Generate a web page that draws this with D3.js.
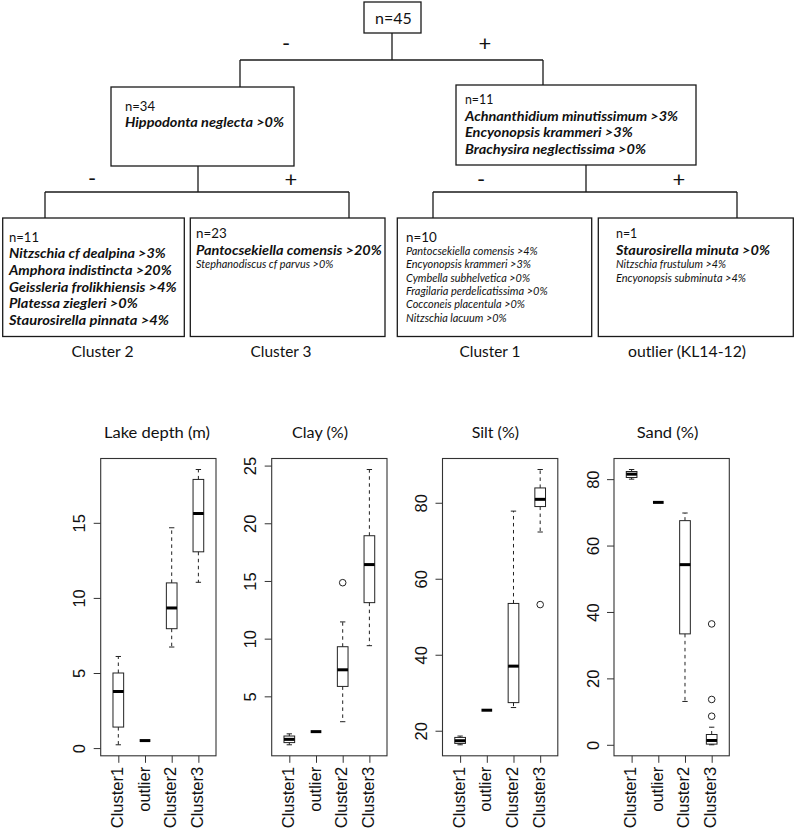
<!DOCTYPE html>
<html><head><meta charset="utf-8">
<script src="https://cdn.jsdelivr.net/npm/d3@7"></script>
<style>body{margin:0;background:#fff}svg{display:block}</style>
</head><body><svg id="c" width="796" height="835"></svg>
<script>
// ================= DATA =================
// Boxplot categories and panel titles
const categories = ["Cluster1", "outlier", "Cluster2", "Cluster3"];
const panelTitles = ["Lake depth (m)", "Clay (%)", "Silt (%)", "Sand (%)"];
// Five-number summaries per category: [lower whisker, Q1, median, Q3, upper whisker]
const lakeDepth = [[0.22, 1.4, 3.77, 5.0, 6.1], [0.5, 0.5, 0.5, 0.5, 0.5], [6.73, 7.95, 9.33, 11.0, 14.67], [11.04, 13.07, 15.62, 17.89, 18.55]];
const clay      = [[0.8, 0.99, 1.27, 1.56, 1.75], [1.94, 1.94, 1.94, 1.94, 1.94], [2.8, 5.86, 7.3, 9.3, 11.45], [9.39, 13.12, 16.42, 18.92, 24.66]];
const silt      = [[16.3, 16.66, 17.37, 18.24, 18.6], [25.4, 25.4, 25.4, 25.4, 25.4], [26.1, 27.4, 37.0, 53.5, 77.8], [72.3, 79.0, 80.9, 83.9, 88.75]];
const sand      = [[80.0, 80.5, 81.5, 82.3, 82.9], [73.0, 73.0, 73.0, 73.0, 73.0], [13.05, 33.4, 54.25, 67.5, 69.8], [0.0, 0.2, 1.3, 3.1, 5.3]];
// Outlying points per category
const lakeDepthOutliers = [[], [], [], []];
const clayOutliers      = [[], [], [14.85], []];
const siltOutliers      = [[], [], [], [53.2]];
const sandOutliers      = [[], [], [], [8.6, 13.65, 36.4]];
// Tick labels
const lakeDepthTicks = [0, 5, 10, 15];
const clayTicks      = [5, 10, 15, 20, 25];
const siltTicks      = [20, 40, 60, 80];
const sandTicks      = [0, 20, 40, 60, 80];

// Decision tree texts
const rootText = ["n=45"];
const splitLeftText = ["n=34", "Hippodonta neglecta >0%"];
const splitRightText = ["n=11", "Achnanthidium minutissimum >3%", "Encyonopsis krammeri >3%", "Brachysira neglectissima >0%"];
const cluster2Text = ["n=11", "Nitzschia cf dealpina >3%", "Amphora indistincta >20%", "Geissleria frolikhiensis >4%", "Platessa ziegleri >0%", "Staurosirella pinnata >4%"];
const cluster3Text = ["n=23", "Pantocsekiella comensis >20%", "Stephanodiscus cf parvus >0%"];
const cluster1Text = ["n=10", "Pantocsekiella comensis >4%", "Encyonopsis krammeri >3%", "Cymbella subhelvetica >0%", "Fragilaria perdelicatissima >0%", "Cocconeis placentula >0%", "Nitzschia lacuum >0%"];
const outlierText = ["n=1", "Staurosirella minuta >0%", "Nitzschia frustulum >4%", "Encyonopsis subminuta >4%"];
const leafLabels = ["Cluster 2", "Cluster 3", "Cluster 1", "outlier (KL14-12)"];
const branchSigns = ["-", "+", "-", "+", "-", "+"];

// ================= LAYOUT =================
const svg = d3.select("#c");
svg.append("rect").attr("width", 796).attr("height", 835).attr("fill", "#fff");

const treeFont = "Lato, 'Open Sans', 'Noto Sans', sans-serif";
const styles = {
  n: {size: 13, weight: "normal", italic: false},
  r: {size: 15, weight: "normal", italic: false},
  b: {size: 14, weight: "bold", italic: true},
  s: {size: 10.5, weight: "normal", italic: true}
};
const treeBoxes = [
  {rect: [364, 2, 421, 33], text: rootText, x: 375, base: [23.5], style: ["r"], w: [36.7]},
  {rect: [111, 87, 294, 166], text: splitLeftText, x: 125, base: [110.5, 127], style: ["n", "b"], w: [30, 159]},
  {rect: [456, 85, 696, 165], text: splitRightText, x: 465, base: [103.5, 120.7, 137.3, 154], style: ["n", "b", "b", "b"], w: [28.3, 213, 167.7, 181]},
  {rect: [2.7, 218, 184.3, 336.5], text: cluster2Text, x: 9, base: [241.7, 258.3, 275, 291.7, 308.3, 325], style: ["n", "b", "b", "b", "b", "b"], w: [30, 156.7, 162.7, 167.7, 128.7, 160]},
  {rect: [190.3, 218, 385, 336.5], text: cluster3Text, x: 196, base: [238.3, 255, 268], style: ["n", "b", "s"], w: [30.7, 185.7, 137.3]},
  {rect: [397.3, 218, 591.7, 336.5], text: cluster1Text, x: 406, base: [241.7, 255, 268.3, 281.7, 295, 308.3, 321.7], style: ["n", "s", "s", "s", "s", "s", "s"], w: [30.7, 131.7, 125, 124, 141.7, 119, 100.7]},
  {rect: [598.3, 218, 793.3, 336.5], text: outlierText, x: 616, base: [238.3, 255, 268.3, 281.7], style: ["n", "b", "s", "s"], w: [21.3, 154, 110, 130]}
];
const treeLines = [
  [392, 33, 392, 60], [240, 60, 543, 60], [240, 60, 240, 87], [543, 60, 543, 85],
  [198, 166, 198, 192], [45, 192, 349, 192], [45, 192, 45, 218], [349, 192, 349, 218],
  [586, 165, 586, 192], [433, 192, 737, 192], [433, 192, 433, 218], [737, 192, 737, 218]
];
const signPos = [[286, 44], [485, 44], [92, 179], [291, 180], [481, 180], [679, 180]];
const leafPos = [[102.5, 62], [281, 61], [490, 61], [687, 118]];

const tree = svg.append("g");
tree.selectAll("line").data(treeLines).join("line")
  .attr("x1", d => d[0]).attr("y1", d => d[1]).attr("x2", d => d[2]).attr("y2", d => d[3])
  .attr("stroke", "#1a1a1a").attr("stroke-width", 1.3);

treeBoxes.forEach(b => {
  tree.append("rect")
    .attr("x", b.rect[0]).attr("y", b.rect[1])
    .attr("width", b.rect[2] - b.rect[0]).attr("height", b.rect[3] - b.rect[1])
    .attr("fill", "#fff").attr("stroke", "#1a1a1a").attr("stroke-width", 1.3);
  b.text.forEach((t, i) => {
    const st = styles[b.style[i]];
    tree.append("text")
      .attr("x", b.x).attr("y", b.base[i])
      .attr("font-family", treeFont).attr("font-size", st.size)
      .attr("font-weight", st.weight).attr("font-style", st.italic ? "italic" : "normal")
      .attr("fill", "#111")
      .attr("textLength", b.w[i]).attr("lengthAdjust", "spacingAndGlyphs")
      .text(t);
  });
});

tree.selectAll("text.sign").data(branchSigns).join("text").attr("class", "sign")
  .attr("x", (d, i) => signPos[i][0]).attr("y", (d, i) => signPos[i][1] + 7)
  .attr("text-anchor", "middle").attr("font-family", treeFont)
  .attr("font-size", 22).attr("fill", "#111").text(d => d);

tree.selectAll("text.leaf").data(leafLabels).join("text").attr("class", "leaf")
  .attr("x", (d, i) => leafPos[i][0]).attr("y", 357)
  .attr("text-anchor", "middle").attr("font-family", treeFont).attr("font-size", 16)
  .attr("fill", "#111")
  .attr("textLength", (d, i) => leafPos[i][1]).attr("lengthAdjust", "spacingAndGlyphs")
  .text(d => d);

// ================= BOXPLOTS =================
const panels = [
  {title: panelTitles[0], stats: lakeDepth, out: lakeDepthOutliers, ticks: lakeDepthTicks},
  {title: panelTitles[1], stats: clay, out: clayOutliers, ticks: clayTicks},
  {title: panelTitles[2], stats: silt, out: siltOutliers, ticks: siltTicks},
  {title: panelTitles[3], stats: sand, out: sandOutliers, ticks: sandTicks}
];
const plotTop = 458.5, plotBottom = 755.8, plotW = 115.3;
const plotLefts = [100.7, 271.7, 442.5, 614];
const titleX = [157, 320, 495.3, 667.5];
const titleW = [106, 56, 47.3, 61.7];
const rFont = "'Liberation Sans', Arial, Helvetica, sans-serif";

panels.forEach((p, i) => {
  const L = plotLefts[i];
  const all = p.stats.flat().concat(p.out.flat());
  const lo = d3.min(all), hi = d3.max(all), pad = (hi - lo) * 0.04;
  const y = d3.scaleLinear().domain([lo - pad, hi + pad]).range([plotBottom, plotTop]);
  const x = d3.scaleLinear().domain([0.5 - 0.16, categories.length + 0.5 + 0.16]).range([L, L + plotW]);
  const boxW = x(1.4) - x(1), staple = x(1.2) - x(1);
  const g = svg.append("g");

  // title
  g.append("text").attr("x", titleX[i]).attr("y", 438).attr("text-anchor", "middle")
    .attr("font-family", treeFont).attr("font-size", 15.5).attr("fill", "#111")
    .attr("textLength", titleW[i]).attr("lengthAdjust", "spacingAndGlyphs").text(p.title);

  // boxes
  p.stats.forEach((s, k) => {
    const cx = x(k + 1);
    const [lw, q1, md, q3, hw] = s;
    g.append("line").attr("x1", cx).attr("x2", cx).attr("y1", y(q3)).attr("y2", y(hw))
      .attr("stroke", "#222").attr("stroke-width", 1).attr("stroke-dasharray", "3.5,3.5");
    g.append("line").attr("x1", cx).attr("x2", cx).attr("y1", y(q1)).attr("y2", y(lw))
      .attr("stroke", "#222").attr("stroke-width", 1).attr("stroke-dasharray", "3.5,3.5");
    [lw, hw].forEach(v => g.append("line")
      .attr("x1", cx - staple / 2).attr("x2", cx + staple / 2).attr("y1", y(v)).attr("y2", y(v))
      .attr("stroke", "#222").attr("stroke-width", 1));
    g.append("rect").attr("x", cx - boxW / 2).attr("width", boxW)
      .attr("y", y(q3)).attr("height", Math.max(0, y(q1) - y(q3)))
      .attr("fill", "none").attr("stroke", "#222").attr("stroke-width", 1);
    g.append("line").attr("x1", cx - boxW / 2).attr("x2", cx + boxW / 2).attr("y1", y(md)).attr("y2", y(md))
      .attr("stroke", "#000").attr("stroke-width", 3);
    p.out[k].forEach(v => g.append("circle").attr("cx", cx).attr("cy", y(v)).attr("r", 3.3)
      .attr("fill", "none").attr("stroke", "#222").attr("stroke-width", 1));
  });

  // frame
  g.append("rect").attr("x", L).attr("y", plotTop).attr("width", plotW).attr("height", plotBottom - plotTop)
    .attr("fill", "none").attr("stroke", "#333").attr("stroke-width", 1.1);

  // y axis
  const ya = g.append("g").attr("transform", `translate(${L},0)`)
    .call(d3.axisLeft(y).tickValues(p.ticks).tickSize(7).tickSizeOuter(0));
  ya.select(".domain").remove();
  ya.selectAll("line").attr("stroke", "#333");
  ya.selectAll("text").attr("x", 0).attr("y", 0).attr("dy", 0)
    .attr("transform", "translate(-15.5,0) rotate(-90)").attr("text-anchor", "middle")
    .attr("font-family", rFont).attr("font-size", 16.5).attr("fill", "#111");

  // x axis
  const xa = g.append("g").attr("transform", `translate(0,${plotBottom})`)
    .call(d3.axisBottom(x).tickValues(categories.map((c, k) => k + 1))
      .tickFormat(d => categories[d - 1]).tickSize(7).tickSizeOuter(0));
  xa.select(".domain").remove();
  xa.selectAll("line").attr("stroke", "#333");
  xa.selectAll("text").attr("x", 0).attr("y", 0).attr("dy", 0)
    .attr("transform", "translate(4,11) rotate(-90)").attr("text-anchor", "end")
    .attr("font-family", rFont).attr("font-size", 16.5).attr("fill", "#111");
});
</script>
</body></html>
